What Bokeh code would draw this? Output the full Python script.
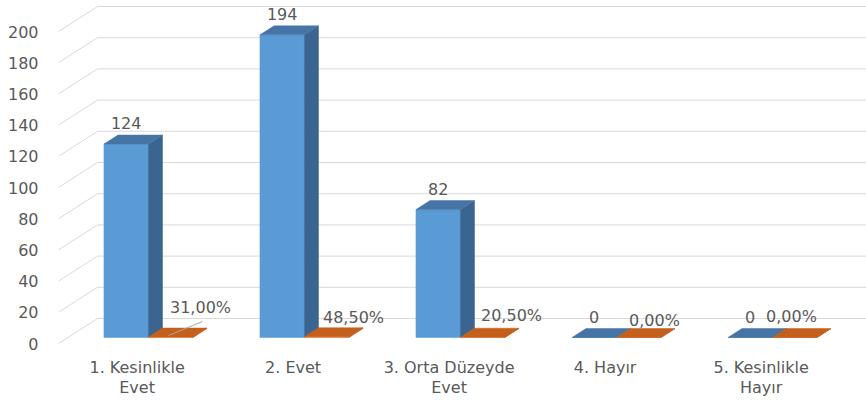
from bokeh.plotting import figure
from bokeh.models import Range1d, FixedTicker
from bokeh.core.properties import value
from bokeh.embed import file_html
from bokeh.resources import INLINE

# ---------------- data ----------------
categories = ["1. Kesinlikle\nEvet", "2. Evet", "3. Orta Düzeyde\nEvet", "4. Hayır", "5. Kesinlikle\nHayır"]
counts = [124, 194, 82, 0, 0]
percents = [31.00, 48.50, 20.50, 0.00, 0.00]
y_ticks = [0, 20, 40, 60, 80, 100, 120, 140, 160, 180, 200]

# ---------------- layout constants (pixels) ----------------
W, H = 866, 402
LEFT = 58
PX_X = 156.0          # pixels per category step
PX_Y = 1.56           # pixels per value unit
FRAME_L, FRAME_R = 58.0, 866.0     # page coords of frame
FRAME_T, FRAME_B = 0.0, 402.0
ZERO_Y = 343.0        # page y of value 0 on front plane
CAT0_X = 138.6        # page x of first category on front plane

DX = 39.0 / PX_X      # full depth offset, x data units
DY = 25.0 / PX_Y      # full depth offset, y data units
D0, D1 = 0.24, 0.60   # bar depth span (fraction of floor depth)
BW = 44.5 / PX_X      # bar width

x_start = (FRAME_L - CAT0_X) / PX_X
x_end = x_start + (FRAME_R - FRAME_L) / PX_X
y_start = (ZERO_Y - FRAME_B) / PX_Y
y_end = (ZERO_Y - FRAME_T) / PX_Y

GRID = "#D9D9D9"
TXT = "#595959"
FONT = "DejaVu Sans"
FS = "16px"

p = figure(width=W, height=H, output_backend="svg", toolbar_location=None,
           x_range=Range1d(x_start, x_end), y_range=Range1d(y_start, y_end),
           min_border_left=LEFT, min_border_right=0, min_border_top=0, min_border_bottom=0)
p.xaxis.visible = False
p.xgrid.visible = False
p.ygrid.visible = False
p.outline_line_color = None
p.background_fill_color = "white"
p.border_fill_color = "white"

ya = p.yaxis[0]
ya.ticker = FixedTicker(ticks=y_ticks)
ya.axis_line_color = None
ya.major_tick_line_color = None
ya.minor_tick_line_color = None
ya.major_tick_out = 0
ya.major_tick_in = 0
ya.major_label_standoff = 20
ya.major_label_text_font = FONT
ya.major_label_text_font_size = FS
ya.major_label_text_color = TXT


def P(x, v, d):
    # oblique projection: going into depth moves right and up
    return x + DX * d, v + DY * d


# ---------------- walls (gridlines) ----------------
xs0, ys0, xs1, ys1 = [], [], [], []
for t in y_ticks:
    a = P(x_start, t, 0)
    b = P(x_start, t, 1)
    xs0 += [a[0], b[0]]
    ys0 += [a[1], b[1]]
    xs1 += [b[0], x_end + 1]
    ys1 += [b[1], b[1]]
p.segment(x0=xs0, y0=ys0, x1=xs1, y1=ys1, line_color=GRID, line_width=1)


# ---------------- bars ----------------
def box(x0, x1, v):
    front = [P(x0, 0, D0), P(x1, 0, D0), P(x1, v, D0), P(x0, v, D0)]
    side = [P(x1, 0, D0), P(x1, 0, D1), P(x1, v, D1), P(x1, v, D0)]
    top = [P(x0, v, D0), P(x1, v, D0), P(x1, v, D1), P(x0, v, D1)]
    return front, side, top


faces = {"xs": [], "ys": [], "c": []}


def add(poly, col):
    faces["xs"].append([q[0] for q in poly])
    faces["ys"].append([q[1] for q in poly])
    faces["c"].append(col)


for i, (c, pc) in enumerate(zip(counts, percents)):
    center = i
    f, s, t = box(center - BW, center, c)
    add(f, "#5B9BD5")
    add(s, "#3A6591")
    add(t, "#4675A5")
    f, s, t = box(center, center + BW, pc / 100.0)
    add(f, "#ED7D31")
    add(s, "#B35A1F")
    add(t, "#C55F1C")

p.patches(xs=faces["xs"], ys=faces["ys"], fill_color=faces["c"], line_color=faces["c"], line_width=0.5)

# ---------------- value labels ----------------
base_y = DY * D0
blue_x = [i + DX * D0 - BW / 2 for i in range(len(counts))]
blue_y = [c + base_y + 21.0 / PX_Y for c in counts]
p.text(x=blue_x, y=blue_y, text=[str(c) for c in counts], text_font=value(FONT),
       text_font_size=FS, text_color=TXT, text_align="center", text_baseline="middle")

pct_dx = [29.8, 26.8, 28.8, 15.8, -3.2]   # label nudges (px)
pct_dy = [30, 20, 22, 17, 21]
or_x = [i + DX * D0 + BW / 2 + pct_dx[i] / PX_X for i in range(len(percents))]
or_y = [base_y + pct_dy[i] / PX_Y for i in range(len(percents))]
pct_txt = [("%.2f" % v).replace(".", ",") + "%" for v in percents]
p.text(x=or_x, y=or_y, text=pct_txt, text_font=value(FONT),
       text_font_size=FS, text_color=TXT, text_align="center", text_baseline="middle")

# leader line for the displaced first label
p.segment(x0=[or_x[0] - 32 / PX_X], y0=[or_y[0] - 28 / PX_Y],
          x1=[or_x[0] + 2 / PX_X], y1=[or_y[0] - 14 / PX_Y],
          line_color="#A6A6A6", line_width=1)

# ---------------- category labels ----------------
l1, l2 = [], []
for c in categories:
    parts = c.split("\n")
    l1.append(parts[0])
    l2.append(parts[1] if len(parts) > 1 else "")
cx = [i - 2 / PX_X for i in range(len(categories))]
p.text(x=cx, y=[(ZERO_Y - 367) / PX_Y] * len(cx), text=l1, text_font=value(FONT),
       text_font_size=FS, text_color=TXT, text_align="center", text_baseline="middle")
p.text(x=cx, y=[(ZERO_Y - 387) / PX_Y] * len(cx), text=l2, text_font=value(FONT),
       text_font_size=FS, text_color=TXT, text_align="center", text_baseline="middle")

open("out.html", "w").write(file_html(p, INLINE))
